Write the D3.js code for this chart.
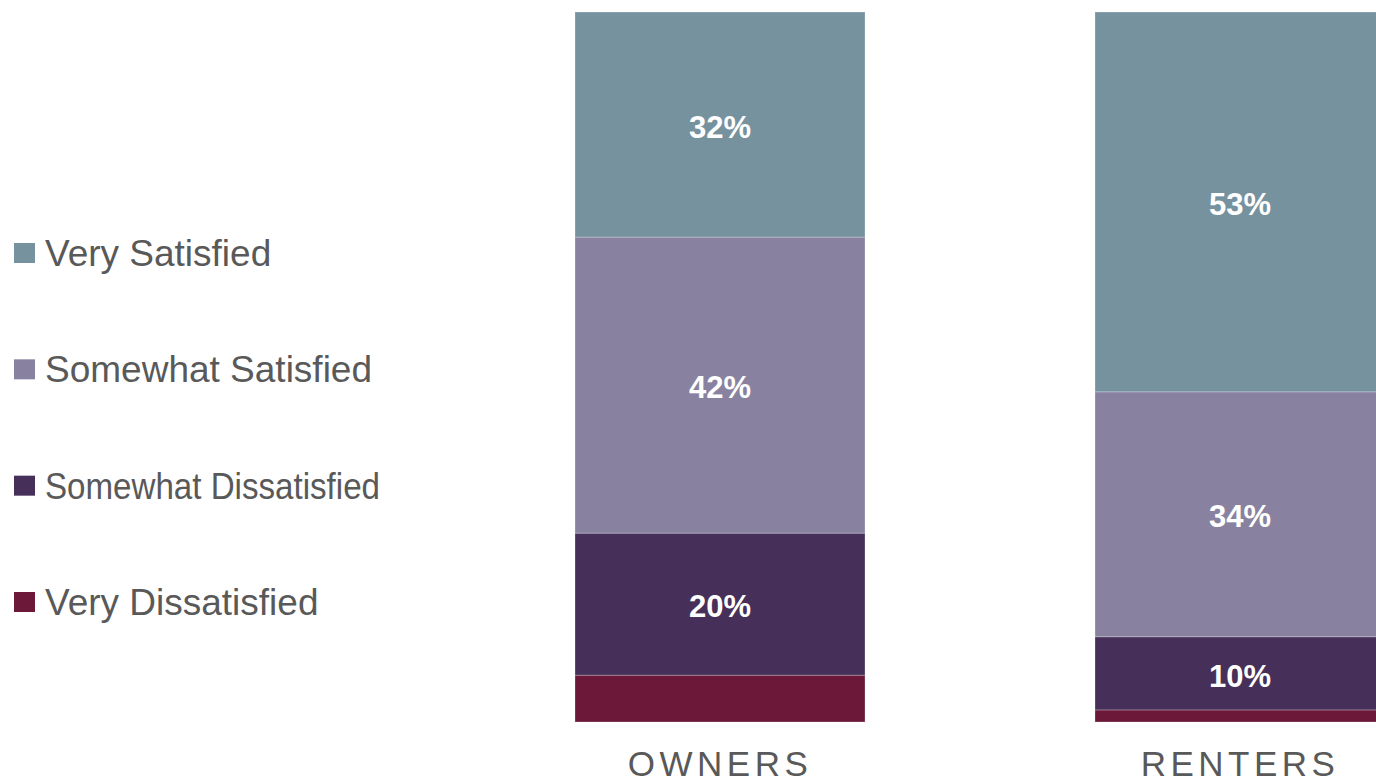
<!DOCTYPE html>
<html>
<head>
<meta charset="utf-8">
<script src="https://cdn.jsdelivr.net/npm/d3@7"></script>
<style>
  html, body { margin: 0; padding: 0; background: #ffffff; }
  svg { display: block; }
</style>
</head>
<body>
<svg id="chart" width="1376" height="784"></svg>
<script>
// ---- Data ----
const categories = ["OWNERS", "RENTERS"];
const seriesNames = ["Very Satisfied", "Somewhat Satisfied", "Somewhat Dissatisfied", "Very Dissatisfied"];
const seriesColors = ["#76929f", "#8882a0", "#46305a", "#6c1939"];
// share of each category, top segment first
const ownersValues  = [31.7, 41.7, 20.0, 6.6];
const rentersValues = [53.5, 34.5, 10.3, 1.7];
// printed labels (null = no label shown)
const ownersLabels  = ["32%", "42%", "20%", null];
const rentersLabels = ["53%", "34%", "10%", null];

const valuesByCategory = [ownersValues, rentersValues];
const labelsByCategory = [ownersLabels, rentersLabels];

// ---- Chart ----
const svg = d3.select("#chart");
const font = "'Liberation Sans', Arial, Helvetica, sans-serif";

const x = d3.scaleBand()
  .domain(categories)
  .range([575, 1385])
  .paddingInner(230 / 520)
  .paddingOuter(0);

const y = d3.scaleLinear().domain([0, 100]).range([722, 12]);

// stack rows: bottom-up order = reversed series
const rows = categories.map((c, i) => {
  const row = { category: c };
  seriesNames.forEach((s, j) => { row[s] = valuesByCategory[i][j]; });
  return row;
});
const stackKeys = seriesNames.slice().reverse();
const stacked = d3.stack().keys(stackKeys)(rows);

const g = svg.append("g");
stacked.forEach(layer => {
  const sIdx = seriesNames.indexOf(layer.key);
  layer.forEach((d, ci) => {
    g.append("rect")
      .attr("x", x(categories[ci]))
      .attr("width", x.bandwidth())
      .attr("y", y(d[1]))
      .attr("height", y(d[0]) - y(d[1]))
      .attr("fill", seriesColors[sIdx])
      .attr("stroke", "rgba(255,255,255,0.35)")
      .attr("stroke-width", 0.75);
    const lab = labelsByCategory[ci][sIdx];
    if (lab) {
      g.append("text")
        .attr("x", x(categories[ci]) + x.bandwidth() / 2)
        .attr("y", (y(d[0]) + y(d[1])) / 2 + 2)
        .attr("dy", "0.36em")
        .attr("text-anchor", "middle")
        .attr("font-family", font)
        .attr("font-weight", "bold")
        .attr("font-size", 31)
        .attr("fill", "#ffffff")
        .text(lab);
    }
  });
});

// category labels
svg.append("g").selectAll("text")
  .data(categories)
  .join("text")
  .attr("x", d => x(d) + x.bandwidth() / 2)
  .attr("y", 776)
  .attr("text-anchor", "middle")
  .attr("font-family", font)
  .attr("font-size", 35)
  .attr("letter-spacing", 4.5)
  .attr("fill", "#595959")
  .text(d => d);

// legend
const legendY = d3.scalePoint().domain(seriesNames).range([266, 615]);
const leg = svg.append("g");
seriesNames.forEach((s, i) => {
  leg.append("rect")
    .attr("x", 14)
    .attr("y", legendY(s) - 23)
    .attr("width", 21)
    .attr("height", 20)
    .attr("fill", seriesColors[i]);
  const t = leg.append("text")
    .attr("x", 45)
    .attr("y", legendY(s))
    .attr("font-family", font)
    .attr("font-size", 37)
    .attr("fill", "#595959")
    .text(s);
  if (s === "Somewhat Dissatisfied") {
    t.attr("textLength", 335).attr("lengthAdjust", "spacingAndGlyphs");
  }
});
</script>
</body>
</html>
